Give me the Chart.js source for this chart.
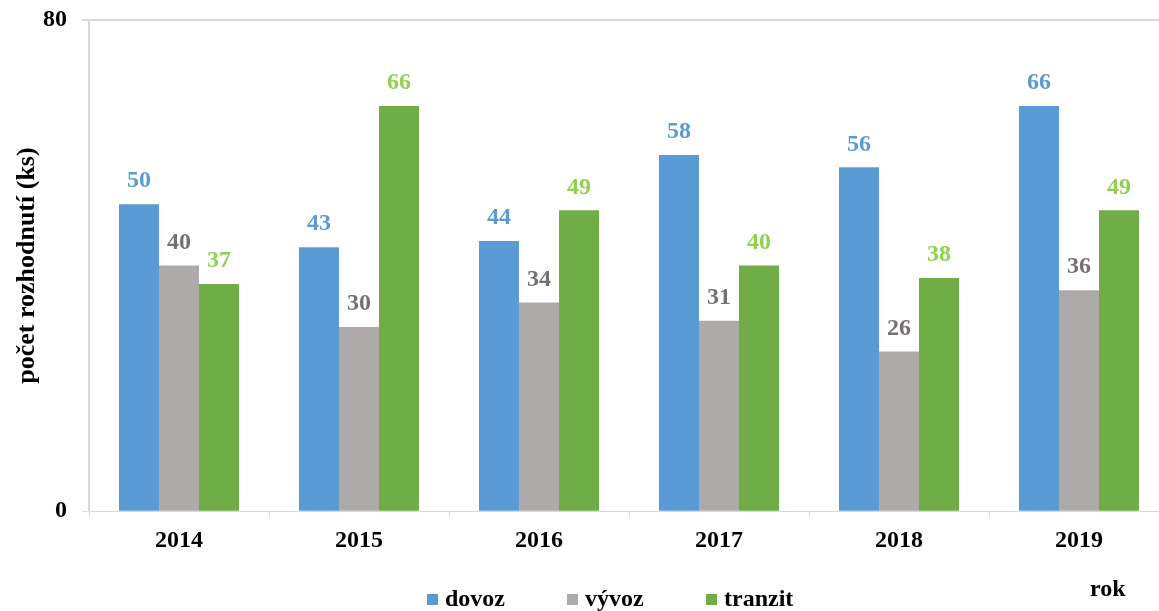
<!DOCTYPE html>
<html>
<head>
<meta charset="utf-8">
<script src="https://cdn.jsdelivr.net/npm/chart.js@4.4.1/dist/chart.umd.min.js"></script>
<style>
  html, body { margin: 0; padding: 0; background: #fff; overflow: hidden; }
  #wrap { width: 1175px; height: 611px; }
</style>
</head>
<body>
<div id="wrap"><canvas id="graf"></canvas></div>
<script>
// data
const roky = ["2014", "2015", "2016", "2017", "2018", "2019"];
const dovoz = [50, 43, 44, 58, 56, 66];
const vyvoz = [40, 30, 34, 31, 26, 36];
const tranzit = [37, 66, 49, 40, 38, 49];
const nazvySerii = ["dovoz", "vývoz", "tranzit"];
const tickyY = [0, 80];

const barvy = ["#5b9bd5", "#aeaaaa", "#70ad47"];
const barvyPopisku = ["#5b9bd5", "#767171", "#92d050"];
const pismo = "'Liberation Serif', 'Times New Roman', serif";

// popisky hodnot nad sloupci + legenda dole
const popiskyPlugin = {
  id: "popisky",
  afterDatasetsDraw(chart) {
    const ctx = chart.ctx;
    ctx.save();
    ctx.font = "bold 24px " + pismo;
    ctx.textAlign = "center";
    ctx.textBaseline = "middle";
    chart.data.datasets.forEach((ds, i) => {
      chart.getDatasetMeta(i).data.forEach((bar, j) => {
        ctx.fillStyle = barvyPopisku[i];
        ctx.fillText(ds.data[j], bar.x, bar.y - 23);
      });
    });
    ctx.restore();
  },
  afterDraw(chart) {
    const ctx = chart.ctx;
    ctx.save();
    ctx.font = "bold 24px " + pismo;
    ctx.textBaseline = "middle";
    ctx.textAlign = "left";
    const legendaX = [427, 567, 706];
    const y = 600;
    nazvySerii.forEach((n, i) => {
      ctx.fillStyle = barvy[i];
      ctx.fillRect(legendaX[i], y - 6, 11, 11);
      ctx.fillStyle = "#000";
      ctx.fillText(n, legendaX[i] + 18, y);
    });
    ctx.fillText("rok", 1090, 590);
    ctx.restore();
  },
};

new Chart(document.getElementById("graf"), {
  type: "bar",
  data: {
    labels: roky,
    datasets: [
      { label: nazvySerii[0], data: dovoz, backgroundColor: barvy[0] },
      { label: nazvySerii[1], data: vyvoz, backgroundColor: barvy[1] },
      { label: nazvySerii[2], data: tranzit, backgroundColor: barvy[2] },
    ],
  },
  options: {
    responsive: true,
    maintainAspectRatio: false,
    animation: false,
    layout: { padding: { top: 20, right: 6, bottom: 47, left: 0 } },
    datasets: { bar: { categoryPercentage: 0.667, barPercentage: 1.0 } },
    plugins: {
      legend: { display: false },
      tooltip: { enabled: false },
    },
    scales: {
      x: {
        grid: {
          offset: true,
          drawOnChartArea: false,
          color: "#d9d9d9",
          tickLength: 6,
        },
        border: { color: "#d9d9d9", width: 1 },
        ticks: {
          color: "#000",
          font: { family: pismo, size: 24, weight: "bold" },
          padding: 9,
        },
      },
      y: {
        min: 0,
        max: 80,
        afterBuildTicks: (s) => { s.ticks = tickyY.map((v) => ({ value: v })); },
        afterFit: (s) => { s.width = 89; s.paddingTop = 0; s.paddingBottom = 0; },
        grid: { color: "#d9d9d9", tickLength: 7, drawOnChartArea: true,
                lineWidth: (c) => (c.tick && c.tick.value === 80 ? 2 : 1) },
        border: { color: "#d9d9d9", width: 2 },
        ticks: {
          color: "#000",
          font: { family: pismo, size: 24, weight: "bold" },
          padding: 15,
        },
        title: {
          display: true,
          text: "počet rozhodnutí (ks)",
          color: "#000",
          font: { family: pismo, size: 26, weight: "bold" },
          padding: { top: 12, bottom: 0 },
        },
      },
    },
  },
  plugins: [popiskyPlugin],
});
</script>
</body>
</html>
